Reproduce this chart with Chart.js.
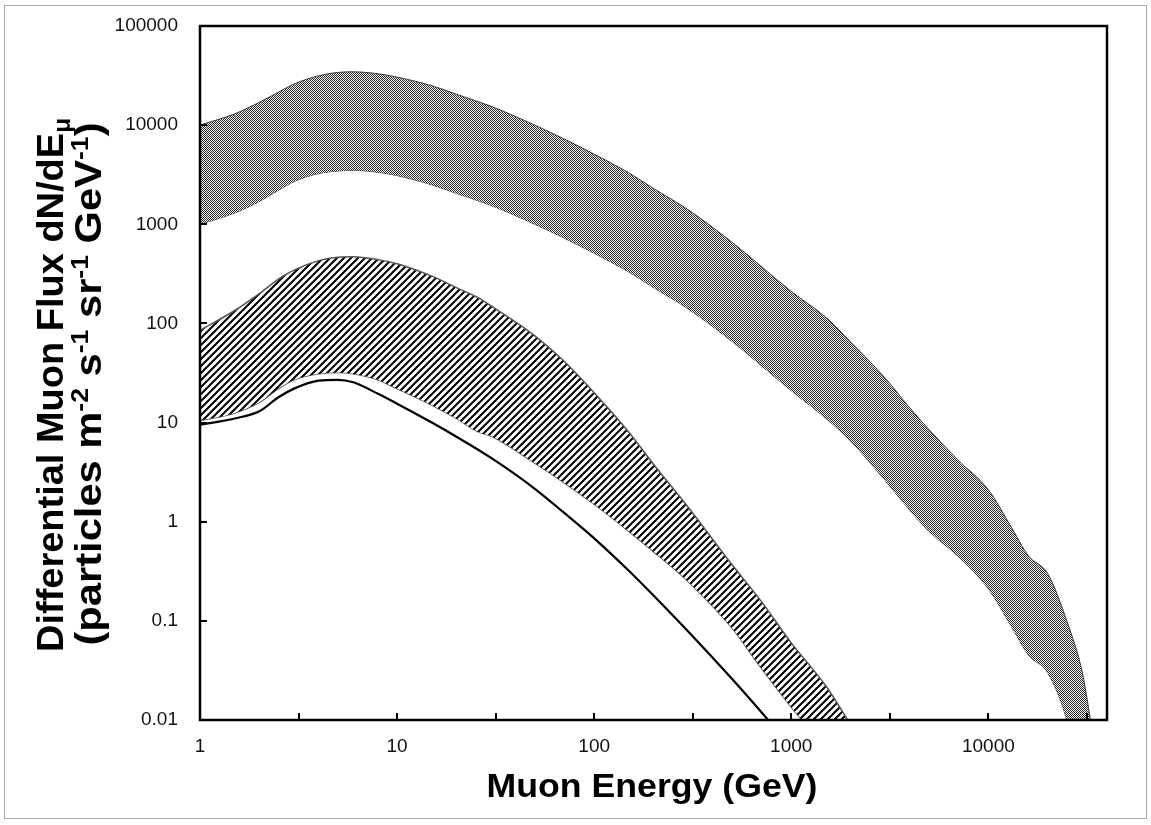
<!DOCTYPE html>
<html>
<head>
<meta charset="utf-8">
<title>Differential Muon Flux</title>
<script src="https://cdn.jsdelivr.net/npm/chart.js@4.4.1/dist/chart.umd.min.js"></script>
<style>
html,body{margin:0;padding:0;background:#fff;}
#frame{position:absolute;left:4px;top:5px;width:1141px;height:812px;border:1px solid #a8a8a8;}
#wrap{position:absolute;left:0;top:0;width:1151px;height:825px;}
</style>
</head>
<body>
<div id="frame"></div>
<div id="wrap"><canvas id="chart" width="1151" height="825"></canvas></div>
<script>
// ---------------- DATA ----------------
// top band (dotted grey)
const bandAEnergy = [1,1.5,2,2.5,3,4,5,6,8,10,15,20,30,50,70,100,150,200,300,500,700,1000,1500,2000,3000,4000,5000,7000,10000,13000,16000,20000,25000,30000,33000];
const bandAUpper  = [10000,13000,17000,21500,26000,31500,34000,34500,33000,30500,25000,20500,15500,10000,7300,5100,3300,2300,1400,660,380,210,115,65,28,14,8.5,4.2,2.1,0.9,0.45,0.3,0.1,0.03,0.01];
const bandALower  = [1000,1300,1700,2200,2700,3250,3450,3500,3350,3100,2500,2050,1550,1000,730,510,330,230,140,66,38,21,11,6.5,2.6,1.3,0.8,0.45,0.21,0.09,0.045,0.03,0.01,0.002,0.001];

// middle band (hatched)
const bandBEnergy = [1,1.5,2,2.5,3,4,5,6,8,10,15,20,26,30,50,70,100,150,200,300,500,700,1000,1500,2000];
const bandBUpper  = [85,135,200,280,345,430,465,470,440,400,300,230,180,150,75,42,20,8,3.8,1.4,0.37,0.16,0.06,0.022,0.009];
const bandBLower  = [10.5,12.5,16,22,27,31,32,31,27,22,15,11,8,7.3,3.9,2.5,1.5,0.8,0.5,0.25,0.085,0.034,0.0135,0.005,0.002];

// solid line
const lineEnergy = [1,1.5,2,2.5,3,4,5,6,8,10,15,20,30,50,70,100,150,200,300,500,700,760];
const lineFlux   = [9.5,11,13,18,22,26.5,27,25.5,19.5,15.5,10,7.2,4.4,2.15,1.24,0.68,0.32,0.18,0.078,0.026,0.0122,0.0101];

// axes
const xTickVals   = [1,3.162,10,31.62,100,316.2,1000,3162,10000,31623];
const xTickLabels = ["1","","10","","100","","1000","","10000",""];
const yTickVals   = [0.01,0.1,1,10,100,1000,10000,100000];
const yTickLabels = ["0.01","0.1","1","10","100","1000","10000","100000"];

const FONT = "'Liberation Sans', Arial, sans-serif";

// ---------------- PATTERNS ----------------
function makeDots(){
  const c = document.createElement("canvas");
  c.width = 2; c.height = 2;
  const g = c.getContext("2d");
  g.fillStyle = "#f4f4f4"; g.fillRect(0,0,2,2);
  g.fillStyle = "#2a2a2a";
  g.fillRect(0,0,1,1);
  g.fillRect(1,1,1,1);
  return g.createPattern(c,"repeat");
}

function makeHatch(){
  const n = 7;
  const c = document.createElement("canvas");
  c.width = n; c.height = n;
  const g = c.getContext("2d");
  g.fillStyle = "#fff"; g.fillRect(0,0,n,n);
  g.strokeStyle = "#000";
  g.lineWidth = 2;
  g.beginPath();
  g.moveTo(-1,n+1); g.lineTo(n+1,-1);
  g.moveTo(-1,1); g.lineTo(1,-1);
  g.moveTo(n-1,n+1); g.lineTo(n+1,n-1);
  g.stroke();
  return g.createPattern(c,"repeat");
}

function pts(xs,ys){
  return xs.map((x,i)=>({x:x,y:ys[i]}));
}

// text with sub/superscripts, squeezed/stretched to a given length
function drawRich(ctx,x,y,angle,len,parts,big,small){
  let total = 0;
  parts.forEach(p=>{
    ctx.font = (p.sup||p.sub) ? small : big;
    p.w = ctx.measureText(p.t).width;
    total += p.w;
  });
  ctx.save();
  ctx.translate(x,y);
  ctx.rotate(angle);
  ctx.scale(len/total,1);
  ctx.textAlign = "left";
  ctx.textBaseline = "alphabetic";
  let cx = -total/2;
  parts.forEach(p=>{
    ctx.font = (p.sup||p.sub) ? small : big;
    let dy = 0;
    if(p.sup) dy = -13;
    if(p.sub) dy = 7;
    ctx.fillText(p.t,cx,dy);
    cx += p.w;
  });
  ctx.restore();
}

// ---------------- PLUGIN (box, inside ticks, axis titles) ----------------
const frame = {
  id:"frame",
  afterDatasetsDraw(chart){
    const ctx = chart.ctx;
    const a = chart.chartArea;
    const xs = chart.scales.x, ys = chart.scales.y;
    ctx.save();
    ctx.strokeStyle = "#000";
    ctx.lineWidth = 2.5;
    ctx.strokeRect(a.left,a.top,a.right-a.left,a.bottom-a.top);

    ctx.lineWidth = 2;
    ctx.beginPath();
    xTickVals.forEach(v=>{
      const px = Math.round(xs.getPixelForValue(v));
      ctx.moveTo(px,a.bottom); ctx.lineTo(px,a.bottom-7);
    });
    yTickVals.forEach(v=>{
      const py = Math.round(ys.getPixelForValue(v));
      ctx.moveTo(a.left,py); ctx.lineTo(a.left+7,py);
    });
    ctx.stroke();
    ctx.restore();
  },
  afterDraw(chart){
    const ctx = chart.ctx;
    ctx.save();
    ctx.fillStyle = "#000";

    // x title
    drawRich(ctx,652,797,0,331,[{t:"Muon Energy (GeV)"}],"bold 33px "+FONT,"bold 22px "+FONT);

    // y title
    drawRich(ctx,63,385,-Math.PI/2,534,[
      {t:"Differential Muon Flux dN/dE"},
      {t:"\u03bc",sub:true}
    ],"bold 36px "+FONT,"bold 23px "+FONT);
    drawRich(ctx,101,384,-Math.PI/2,523,[
      {t:"(particles m"},{t:"-2",sup:true},
      {t:" s"},{t:"-1",sup:true},
      {t:" sr"},{t:"-1",sup:true},
      {t:" GeV"},{t:"-1",sup:true},
      {t:")"}
    ],"bold 36px "+FONT,"bold 23px "+FONT);
    ctx.restore();
  }
};

// ---------------- CHART ----------------
const dots = makeDots();
const hatch = makeHatch();

const lineBase = {
  pointRadius:0,
  cubicInterpolationMode:"monotone"
};

new Chart(document.getElementById("chart"),{
  type:"line",
  data:{
    datasets:[
      {...lineBase, label:"A upper", data:pts(bandAEnergy,bandAUpper), borderColor:"#3a3a3a", borderWidth:1, backgroundColor:dots, fill:"+1"},
      {...lineBase, label:"A lower", data:pts(bandAEnergy,bandALower), borderColor:"#3a3a3a", borderWidth:1, fill:false},
      {...lineBase, label:"B upper", data:pts(bandBEnergy,bandBUpper), borderColor:"#555", borderWidth:1.5, backgroundColor:hatch, fill:"+1"},
      {...lineBase, label:"B lower", data:pts(bandBEnergy,bandBLower), borderColor:"#555", borderWidth:1.5, fill:false},
      {...lineBase, label:"line", data:pts(lineEnergy,lineFlux), borderColor:"#000", borderWidth:2.2, fill:false}
    ]
  },
  options:{
    responsive:false,
    animation:false,
    layout:{padding:{left:0,top:26,right:44,bottom:0}},
    plugins:{legend:{display:false},tooltip:{enabled:false}},
    scales:{
      x:{
        type:"logarithmic",
        min:1, max:40000,
        grid:{display:false,drawTicks:false},
        border:{display:false},
        afterBuildTicks(s){ s.ticks = xTickVals.map(v=>({value:v})); },
        afterFit(s){ s.height = 105; s.paddingLeft = 0; s.paddingRight = 0; },
        ticks:{
          autoSkip:false, maxRotation:0, padding:15,
          color:"#111", font:{family:FONT,size:19},
          callback:(v,i)=>xTickLabels[i]
        }
      },
      y:{
        type:"logarithmic",
        min:0.01, max:100000,
        grid:{display:false,drawTicks:false},
        border:{display:false},
        afterBuildTicks(s){ s.ticks = yTickVals.map(v=>({value:v})); },
        afterFit(s){ s.width = 200; s.paddingTop = 0; s.paddingBottom = 0; },
        ticks:{
          autoSkip:false, padding:22,
          color:"#111", font:{family:FONT,size:19},
          callback:(v,i)=>yTickLabels[i]
        }
      }
    }
  },
  plugins:[frame]
});
</script>
</body>
</html>
